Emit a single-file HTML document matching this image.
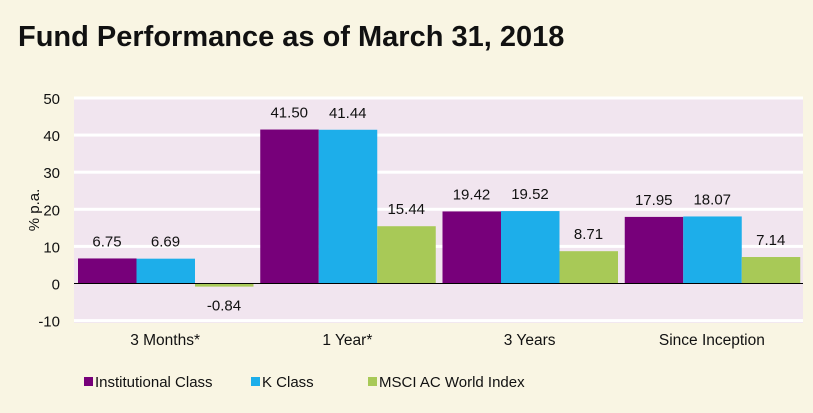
<!DOCTYPE html>
<html><head><meta charset="utf-8"><style>
body{margin:0;background:#f9f5e3;font-family:"Liberation Sans",sans-serif;}
svg{display:block}
</style></head><body>
<svg width="813" height="413" id="c">
<rect width="813" height="413" fill="#f9f5e3"/>
<text x="18" y="46" font-size="29" font-weight="bold" fill="#111">Fund Performance as of March 31, 2018</text>
<rect x="74" y="97" width="729" height="226" fill="#f1e5ef"/>
<g id="grid"></g><g id="bars"></g><g id="labels"></g>
<text transform="translate(39,210) rotate(-90)" text-anchor="middle" font-size="15" fill="#111">% p.a.</text>
</svg>
<script>
const categories=["3 Months*","1 Year*","3 Years","Since Inception"];
const seriesNames=["Institutional Class","K Class","MSCI AC World Index"];
const institutional=[6.75,41.50,19.42,17.95];
const kClass=[6.69,41.44,19.52,18.07];
const msci=[-0.84,15.44,8.71,7.14];
const yTicks=[-10,0,10,20,30,40,50];
const colors=["#77007a","#1daeea","#a8c957"];
const NS="http://www.w3.org/2000/svg";
const svg=document.getElementById('c');
const y=v=>283.5-v*3.71;
const left=74,gw=182.25;
function mk(tag,attrs,parent,txt){const e=document.createElementNS(NS,tag);for(const k in attrs)e.setAttribute(k,attrs[k]);if(txt!==undefined)e.textContent=txt;parent.appendChild(e);return e;}
const grid=document.getElementById('grid'),bars=document.getElementById('bars'),labels=document.getElementById('labels');
yTicks.forEach(t=>{
  if(t!==0){const l=mk('rect',{x:left,y:y(t)-1.5,width:729,height:3,fill:'#fff'},grid);
  
  }
  const tx=mk('text',{x:60,y:y(t)+6,'text-anchor':'end','font-size':15,fill:'#111'},grid,String(t));
  
  
});
const series=[institutional,kClass,msci];
categories.forEach((c,i)=>{
  const g0=left+i*gw+4;
  series.forEach((s,j)=>{
    const v=s[i],bx=g0+j*58.5,top=Math.min(y(v),y(0)),h=Math.abs(y(v)-y(0));
    const r=mk('rect',{x:bx,y:top,width:58.5,height:Math.max(h,1),fill:colors[j]},bars);
    
    
    const ly=v>=0?y(v)-12:y(v)+24;
    const t=mk('text',{x:bx+29,y:ly,'text-anchor':'middle','font-size':15,fill:'#111'},labels,v.toFixed(2));
    
    
  });
  const ct=mk('text',{x:left+i*gw+gw/2,y:345,'text-anchor':'middle','font-size':15.5,fill:'#111'},labels,c);
  
  
});
const zl=mk('line',{x1:left,x2:803,y1:y(0),y2:y(0),stroke:'#000','stroke-width':1},bars);


const lx=[84,251,368];
seriesNames.forEach((n,j)=>{
  const sw=mk('rect',{x:lx[j],y:377,width:9,height:9,fill:colors[j]},svg);
  
  
  const t=mk('text',{x:lx[j]+11,y:387,'font-size':15,fill:'#111'},svg,n);
  
  
});
</script>
</body></html>
